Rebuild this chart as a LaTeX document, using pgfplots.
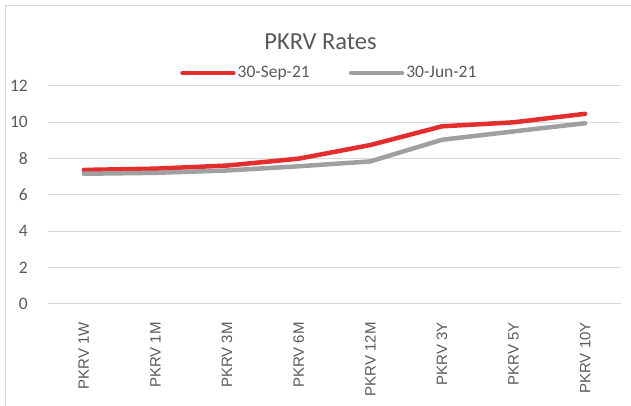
\documentclass[border=0pt]{standalone}
\usepackage{pgfplots}
\pgfplotsset{compat=1.18}
\usepackage{fontspec}
\setmainfont{Carlito}
\newfontfamily\arialf{Liberation Sans}
\definecolor{txtgray}{HTML}{595959}
\definecolor{gridgray}{HTML}{D9D9D9}
\definecolor{sepred}{HTML}{E42D2D}
\definecolor{jungray}{HTML}{A0A0A0}
\begin{document}
\begin{tikzpicture}
\useasboundingbox (0,0) rectangle (631bp,406bp);
\draw[color=gridgray, line width=1bp] (5bp,0bp) -- (5bp,400.5bp) -- (631bp,400.5bp);
\node[text=txtgray, font=\fontsize{24.5bp}{28bp}\selectfont] at (320.5bp,364bp) {PKRV Rates};
\begin{axis}[
  at={(48bp,102bp)}, anchor=south west,
  scale only axis,
  width=573bp, height=218bp,
  xmin=-0.5, xmax=7.5,
  ymin=0, ymax=12,
  ytick={0,2,...,12},
  xtick={0,...,7},
  xticklabels={PKRV 1W,PKRV 1M,PKRV 3M,PKRV 6M,PKRV 12M,PKRV 3Y,PKRV 5Y,PKRV 10Y},
  axis line style={draw=none},
  major tick length=0pt,
  ymajorgrids,
  grid style={color=gridgray, line width=1bp},
  /pgf/number format/assume math mode=true,
  yticklabel style={text=txtgray, font=\fontsize{17.5bp}{20bp}\selectfont, anchor=east, inner sep=0pt, xshift=-20bp},
  xticklabel style={text=txtgray, font=\arialf\fontsize{15bp}{18bp}\selectfont, inner sep=0pt, yshift=-18bp, rotate=90, anchor=east},
  legend columns=2,
  legend style={draw=none, fill=none, at={(axis description cs:0.491,1.06)}, anchor=center,
    font=\fontsize{17.5bp}{20bp}\selectfont, text=txtgray,
    /tikz/every even column/.append style={column sep=37bp}},
  legend cell align=left,
  legend image code/.code={\draw[#1, line width=4.5bp, line cap=round] (0bp,0bp) -- (51bp,0bp);},
  clip=false,
]
\addplot[color=sepred, line width=4.5bp, line cap=round, line join=round] coordinates {
  (0,7.38) (1,7.45) (2,7.62) (3,8.0) (4,8.75) (5,9.78) (6,10.0) (7,10.47)
};
\addlegendentry{30-Sep-21}
\addplot[color=jungray, line width=4.5bp, line cap=round, line join=round] coordinates {
  (0,7.17) (1,7.22) (2,7.35) (3,7.58) (4,7.85) (5,9.04) (6,9.5) (7,9.95)
};
\addlegendentry{30-Jun-21}
\end{axis}
\end{tikzpicture}
\end{document}
